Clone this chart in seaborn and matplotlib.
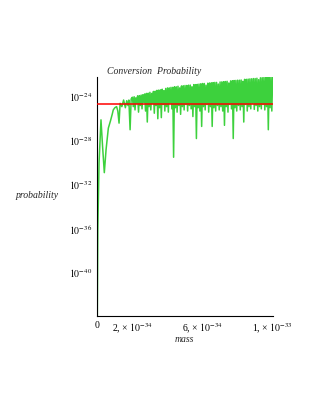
import numpy as np
import pandas as pd
import matplotlib
matplotlib.use("Agg")
import matplotlib.pyplot as plt
import seaborn as sns
from matplotlib.ticker import FixedLocator, NullFormatter

# ======================
# data (mass in units of 1e-34, probability as log10)
# ======================
mass_early = [0.0, 0.03, 0.1, 0.21, 0.3, 0.4, 0.5, 0.63, 0.75, 0.85, 0.91, 1.0,
              1.1, 1.17, 1.24, 1.3, 1.4, 1.5, 1.6, 1.68, 1.75, 1.8, 1.87, 1.93]
logp_early = [-44.0, -36.0, -30.0, -26.1, -28.5, -30.9, -28.8, -26.85, -26.2, -25.6,
              -25.2, -25.0, -24.9, -25.3, -26.4, -24.6, -24.9, -24.3, -25.0, -24.36,
              -24.8, -24.3, -27.0, -24.2]

# oscillating part: peaks at x.x0, troughs at x.x5
mass_osc = [
    2.00, 2.05, 2.10, 2.15, 2.20, 2.25, 2.30, 2.35, 2.40, 2.45,
    2.50, 2.55, 2.60, 2.65, 2.70, 2.75, 2.80, 2.85, 2.90, 2.95,
    3.00, 3.05, 3.10, 3.15, 3.20, 3.25, 3.30, 3.35, 3.40, 3.45,
    3.50, 3.55, 3.60, 3.65, 3.70, 3.75, 3.80, 3.85, 3.90, 3.95,
    4.00, 4.05, 4.10, 4.15, 4.20, 4.25, 4.30, 4.35, 4.40, 4.45,
    4.50, 4.55, 4.60, 4.65, 4.70, 4.75, 4.80, 4.85, 4.90, 4.95,
    5.00, 5.05, 5.10, 5.15, 5.20, 5.25, 5.30, 5.35, 5.40, 5.45,
    5.50, 5.55, 5.60, 5.65, 5.70, 5.75, 5.80, 5.85, 5.90, 5.95,
    6.00, 6.05, 6.10, 6.15, 6.20, 6.25, 6.30, 6.35, 6.40, 6.45,
    6.50, 6.55, 6.60, 6.65, 6.70, 6.75, 6.80, 6.85, 6.90, 6.95,
    7.00, 7.05, 7.10, 7.15, 7.20, 7.25, 7.30, 7.35, 7.40, 7.45,
    7.50, 7.55, 7.60, 7.65, 7.70, 7.75, 7.80, 7.85, 7.90, 7.95,
    8.00, 8.05, 8.10, 8.15, 8.20, 8.25, 8.30, 8.35, 8.40, 8.45,
    8.50, 8.55, 8.60, 8.65, 8.70, 8.75, 8.80, 8.85, 8.90, 8.95,
    9.00, 9.05, 9.10, 9.15, 9.20, 9.25, 9.30, 9.35, 9.40, 9.45,
    9.50, 9.55, 9.60, 9.65, 9.70, 9.75, 9.80, 9.85, 9.90, 9.95,
    10.00,
]
logp_osc = [
    -24.05, -24.9, -24.0, -25.2, -24.1, -24.6, -23.92, -25.4, -23.9, -24.8,
    -23.85, -25.1, -23.82, -24.5, -23.75, -25.3, -23.7, -26.3, -23.68, -24.9,
    -23.6, -25.2, -23.7, -24.6, -23.52, -25.5, -23.5, -24.8, -23.42, -26.0,
    -23.4, -25.0, -23.38, -25.9, -23.32, -24.7, -23.45, -25.3, -23.25, -24.9,
    -23.2, -25.4, -23.2, -24.6, -23.15, -25.1, -23.15, -29.5, -23.1, -25.0,
    -23.1, -25.4, -23.05, -24.8, -23.2, -25.6, -23.02, -24.9, -23.0, -25.2,
    -22.98, -24.7, -22.98, -25.3, -22.95, -24.8, -22.94, -25.1, -23.1, -25.8,
    -22.9, -24.9, -22.9, -27.8, -22.88, -25.0, -22.85, -25.3, -22.83, -26.7,
    -22.8, -24.9, -22.8, -25.2, -22.95, -24.7, -22.77, -25.4, -22.75, -24.9,
    -22.74, -26.7, -22.72, -25.0, -22.7, -25.3, -22.7, -24.8, -22.85, -25.2,
    -22.66, -24.9, -22.65, -25.3, -22.64, -26.6, -22.62, -24.9, -22.6, -25.4,
    -22.75, -24.7, -22.56, -25.1, -22.55, -27.8, -22.53, -25.0, -22.52, -25.3,
    -22.5, -24.8, -22.5, -25.2, -22.48, -24.9, -22.6, -26.3, -22.42, -24.7,
    -22.42, -25.3, -22.4, -24.9, -22.38, -25.1, -22.37, -24.6, -22.35, -25.15,
    -22.35, -24.8, -22.32, -25.3, -22.45, -24.9, -22.28, -25.1, -22.27, -24.7,
    -22.25, -25.2, -22.23, -24.9, -22.22, -27.0, -22.2, -25.0, -22.18, -25.3,
    -22.18,
]

red_level = -24.7          # constant reference level (log10)
red_mass = [0.0, 10.0]

ytick_major = [-24, -28, -32, -36, -40]
ytick_minor = [-22, -26, -30, -34, -38, -42]
xtick_all = [0, 1, 2, 3, 4, 5, 6, 7, 8, 9, 10]
xtick_labels = {0: "0", 2: "2, × $10^{-34}$", 6: "6, × $10^{-34}$", 10: "1, × $10^{-33}$"}

# ======================
# build table
# ======================
df = pd.DataFrame({
    "mass": np.array(mass_early + mass_osc) * 1e-34,
    "prob": 10.0 ** np.array(logp_early + logp_osc),
})
df_red = pd.DataFrame({
    "mass": np.array(red_mass) * 1e-34,
    "prob": [10.0 ** red_level] * len(red_mass),
})

# ======================
# plot
# ======================
sns.set_theme(style="white")
plt.rcParams["font.family"] = ["Liberation Serif", "DejaVu Serif"]
plt.rcParams["mathtext.fontset"] = "stix"

fig = plt.figure(figsize=(3.15, 4.07), dpi=100)
W, H = 315, 407
x0, x1, y0, y1 = 97.3, 272.7, 76.7, 315.7
ax = fig.add_axes([x0 / W, 1 - y1 / H, (x1 - x0) / W, (y1 - y0) / H])

sns.lineplot(data=df, x="mass", y="prob", ax=ax, color="#3dd13d",
             linewidth=1.1, estimator=None, sort=False, zorder=2)
sns.lineplot(data=df_red, x="mass", y="prob", ax=ax, color="#ff0000",
             linewidth=1.1, estimator=None, zorder=3)

ax.set_yscale("log")
ax.set_xlim(0, 1e-33)
ax.set_ylim(10 ** -43.9, 10 ** -22.18)

ax.yaxis.set_major_locator(FixedLocator([10.0 ** v for v in ytick_major]))
ax.yaxis.set_minor_locator(FixedLocator([10.0 ** v for v in ytick_minor]))
ax.set_yticklabels([r"$10^{%d}$" % v for v in ytick_major])
ax.yaxis.set_minor_formatter(NullFormatter())

ax.set_xticks([v * 1e-34 for v in xtick_all])
ax.set_xticklabels([xtick_labels.get(v, "") for v in xtick_all])

ax.tick_params(axis="both", which="both", direction="inout", length=4,
               width=0.8, color="black", labelsize=7, pad=2, labelcolor="black")
for s in ["top", "right"]:
    ax.spines[s].set_visible(False)
for s in ["left", "bottom"]:
    ax.spines[s].set_color("black")
    ax.spines[s].set_linewidth(0.8)

ax.set_xlabel("")
ax.set_ylabel("")

fig.text(107 / W, 1 - 71 / H, "Conversion  Probability", ha="left", va="center",
         fontsize=7, style="italic")
fig.text(37 / W, 1 - 196 / H, "probability", ha="center", va="center",
         fontsize=7, style="italic")
fig.text(184 / W, 1 - 339 / H, "mass", ha="center", va="center",
         fontsize=7, style="italic")

fig.savefig("out.png", dpi=100)
